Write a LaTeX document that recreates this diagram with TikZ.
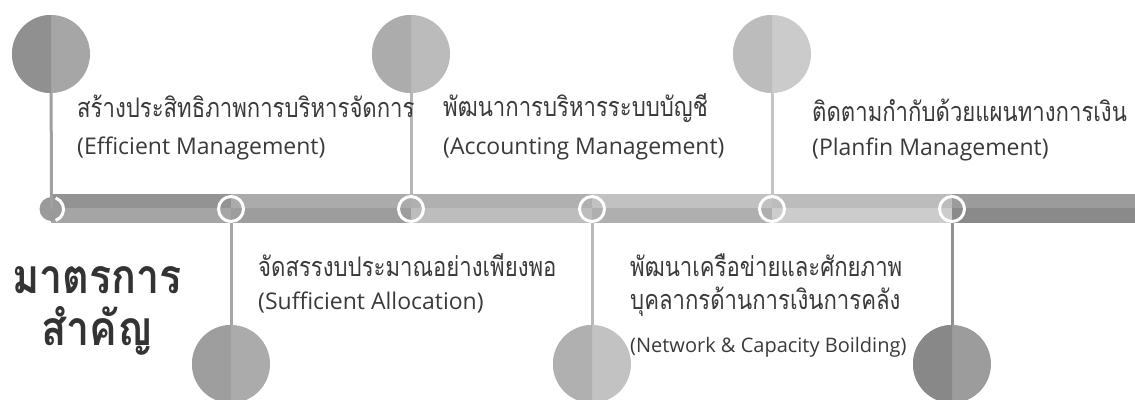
\documentclass[tikz,border=0pt]{standalone}
\usepackage{fontspec}
\setmainfont{Open Sans}
\newfontfamily\thaifont[Script=Thai, FakeStretch=0.82]{Loma}
\newfontfamily\thaititle[Script=Thai, FakeStretch=0.86]{Loma}
\definecolor{txt}{HTML}{3A3A3A}
\definecolor{ttl}{HTML}{333333}
\definecolor{sAt}{HTML}{939393}\definecolor{sAb}{HTML}{A5A5A5}
\definecolor{sBt}{HTML}{ABABAB}\definecolor{sBb}{HTML}{9D9D9D}
\definecolor{sCt}{HTML}{B0B0B0}\definecolor{sCb}{HTML}{BDBDBD}
\definecolor{sDt}{HTML}{C1C1C1}\definecolor{sDb}{HTML}{AFAFAF}
\definecolor{sEt}{HTML}{BCBCBC}\definecolor{sEb}{HTML}{CCCCCC}
\definecolor{sFt}{HTML}{9B9B9B}\definecolor{sFb}{HTML}{8A8A8A}
\definecolor{cAl}{HTML}{909090}\definecolor{cAr}{HTML}{A6A6A6}\definecolor{kA}{HTML}{A0A0A0}
\definecolor{cBl}{HTML}{9E9E9E}\definecolor{cBr}{HTML}{ABABAB}\definecolor{kB}{HTML}{A6A6A6}
\definecolor{cCl}{HTML}{ACACAC}\definecolor{cCr}{HTML}{BBBBBB}\definecolor{kC}{HTML}{B6B6B6}
\definecolor{cDl}{HTML}{B0B0B0}\definecolor{cDr}{HTML}{C2C2C2}\definecolor{kD}{HTML}{BABABA}
\definecolor{cEl}{HTML}{BCBCBC}\definecolor{cEr}{HTML}{CBCBCB}\definecolor{kE}{HTML}{C5C5C5}
\definecolor{cFl}{HTML}{888888}\definecolor{cFr}{HTML}{9C9C9C}\definecolor{kF}{HTML}{919191}
\definecolor{endc}{HTML}{9A9A9A}
\tikzset{
  bigc/.style={circle, minimum size=78pt, inner sep=0pt, fill=#1},
  ringc/.style={circle, minimum size=25pt, inner sep=0pt, draw=white, line width=3pt},
  stemline/.style={line width=3pt, draw=#1},
  lblth/.style={anchor=base west, inner sep=0pt, text=txt, font=\thaifont\fontsize{27}{31}\selectfont},
  lblen/.style={anchor=base west, inner sep=0pt, text=txt, font=\fontsize{23}{27}\selectfont},
  ttlth/.style={anchor=base, inner sep=0pt, text=ttl, font=\thaititle\bfseries\fontsize{48}{54}\selectfont},
}
\newcommand{\halfleft}[3]{% node, radius, color
  \begin{scope}\clip ($(#1.center)+(-#2,-#2)$) rectangle ($(#1.center)+(0,#2)$);
  \fill[#3] (#1.center) circle[radius=#2];\end{scope}}
\usetikzlibrary{calc}
\begin{document}
\begin{tikzpicture}[x=1pt,y=-1pt]
\useasboundingbox (0,0) rectangle (1135,399);
\clip (0,0) rectangle (1135,399);
% bar
\fill[sAt] (51,194) rectangle (231,208); \fill[sAb] (51,208) rectangle (231,223);
\fill[sBt] (231,194) rectangle (411,208); \fill[sBb] (231,208) rectangle (411,223);
\fill[sCt] (411,194) rectangle (592,208); \fill[sCb] (411,208) rectangle (592,223);
\fill[sDt] (592,194) rectangle (772,208); \fill[sDb] (592,208) rectangle (772,223);
\fill[sEt] (772,194) rectangle (952,208); \fill[sEb] (772,208) rectangle (952,223);
\fill[sFt] (952,194) rectangle (1135,208); \fill[sFb] (952,208) rectangle (1135,223);
% big circles
\node[bigc=cAr] (b1) at (51,54) {};   \halfleft{b1}{39}{cAl}
\node[bigc=cBr] (b2) at (231,364) {}; \halfleft{b2}{39}{cBl}
\node[bigc=cCr] (b3) at (411,54) {};  \halfleft{b3}{39}{cCl}
\node[bigc=cDr] (b4) at (592,364) {}; \halfleft{b4}{39}{cDl}
\node[bigc=cEr] (b5) at (772,54) {};  \halfleft{b5}{39}{cEl}
\node[bigc=cFr] (b6) at (952,364) {}; \halfleft{b6}{39}{cFl}
% end dot
\node[circle, minimum size=24pt, inner sep=0pt, fill=endc] (r1) at (51.5,209) {};
% rings
\node[ringc] (r2) at (231,209) {};
\node[ringc] (r3) at (411,209) {};
\node[ringc] (r4) at (592,209) {};
\node[ringc] (r5) at (772,209) {};
\node[ringc] (r6) at (952,209) {};
% stems
\draw[stemline=kA] (b1) -- (r1.center);
\draw[white, line width=3pt] (r1.-70) arc[start angle=70, end angle=-70, radius=12];
\draw[stemline=kB] (r2) -- (b2);
\draw[stemline=kC] (b3) -- (r3);
\draw[stemline=kD] (r4) -- (b4);
\draw[stemline=kE] (b5) -- (r5);
\draw[stemline=kF] (r6) -- (b6);
% labels
\node[lblth] (t1a) at (77,117) {สร้างประสิทธิภาพการบริหารจัดการ};
\node[lblen] (t1b) at (77,154) {(Efficient Management)};
\node[lblth] (t3a) at (443,116) {พัฒนาการบริหารระบบบัญชี};
\node[lblen] (t3b) at (443,154) {(Accounting Management)};
\node[lblth] (t5a) at (812,121) {ติดตามกำกับด้วยแผนทางการเงิน};
\node[lblen] (t5b) at (812,155) {(Planfin Management)};
\node[lblth] (t2a) at (258,276) {จัดสรรงบประมาณอย่างเพียงพอ};
\node[lblen] (t2b) at (258,309) {(Sufficient Allocation)};
\node[lblth] (t4a) at (630,276) {พัฒนาเครือข่ายและศักยภาพ};
\node[lblth] (t4b) at (630,309) {บุคลากรด้านการเงินการคลัง};
\node[lblen, font=\fontsize{20}{24}\selectfont] (t4c) at (630,352) {(Network \& Capacity Boilding)};
\node[ttlth] (h1) at (97,293) {มาตรการ};
\node[ttlth] (h2) at (97,345) {สำคัญ};
\end{tikzpicture}
\end{document}
